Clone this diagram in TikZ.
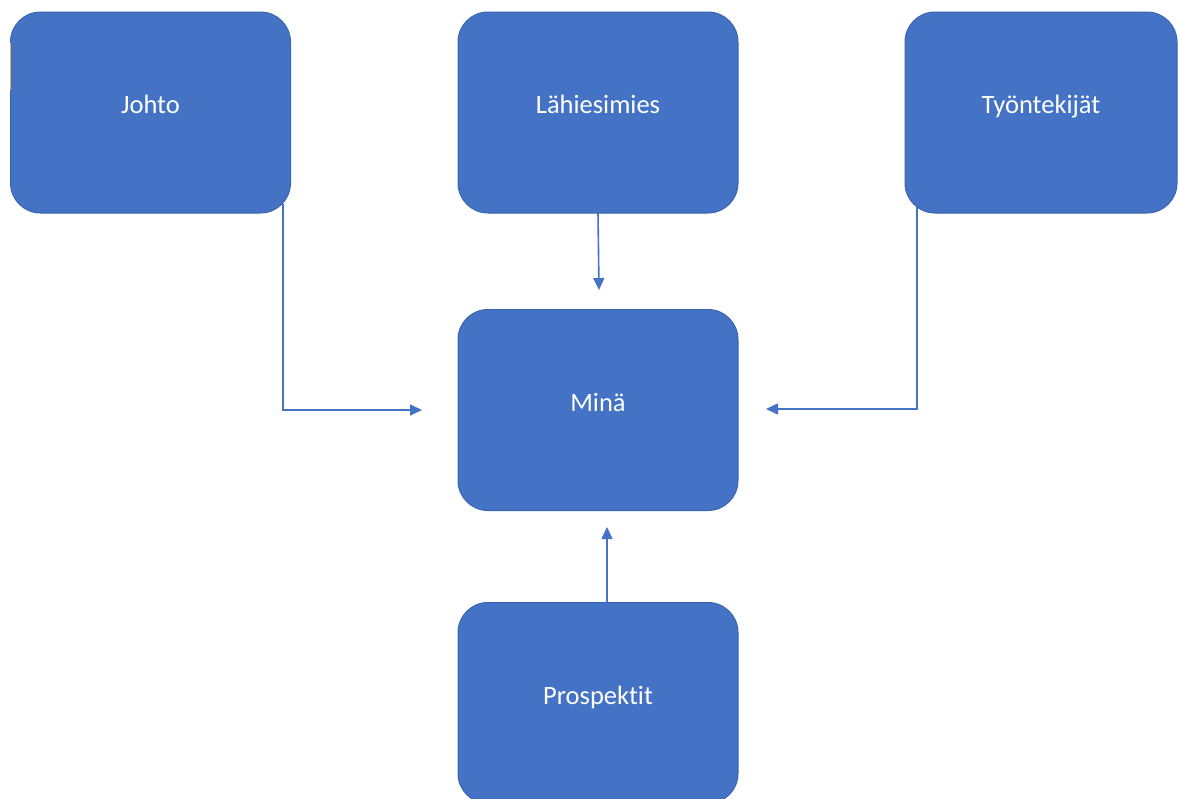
\documentclass[tikz,border=0pt]{standalone}
\usepackage{fontspec}
\setmainfont[Ligatures={NoCommon}]{Carlito}
\usetikzlibrary{arrows.meta}
\definecolor{boxblue}{HTML}{4472C4}
\definecolor{boxedge}{HTML}{3A65B0}
\definecolor{sliver}{HTML}{E2B464}
\tikzset{
  card/.style={draw=boxedge, line width=1pt, fill=boxblue, rounded corners=30pt,
    minimum width=280pt, minimum height=201pt, inner sep=0pt, text=white,
    font=\fontsize{26.5}{30}\selectfont},
  arr/.style={draw=boxblue, line width=1.6pt, -{Triangle[length=12pt,width=11pt]}}
}
\newcommand{\lift}[1]{\raisebox{16pt}{#1}}
\begin{document}
\begin{tikzpicture}[x=1pt,y=-1pt]
\useasboundingbox (0,0) rectangle (1178,798);
\clip (0,0) rectangle (1178,798);
\node[card] (johto) at (150.5,112.5) {\lift{Johto}};
\node[card] (lahi) at (598,112.5) {\lift{Lähiesimies}};
\node[card, minimum width=272pt] (tyon) at (1041,112.5) {\lift{Työntekijät}};
\node[card] (mina) at (598,410) {\lift{Minä}};
\node[card] (prosp) at (598,703) {\lift{Prospektit}};
\draw[sliver, line width=1.5pt] (10.7,43) -- (10.7,90);
\coordinate (jA) at (283,204);
\coordinate (jB) at (422,410);
\coordinate (lA) at (598,213);
\coordinate (lB) at (599,290);
\coordinate (tA) at (917,207);
\coordinate (tB) at (766,409);
\coordinate (pA) at (607,603);
\coordinate (pB) at (607,527);
\draw[arr] (jA) |- (jB);
\draw[arr] (lA) -- (lB);
\draw[arr] (tA) |- (tB);
\draw[arr] (pA) -- (pB);
\end{tikzpicture}
\end{document}
